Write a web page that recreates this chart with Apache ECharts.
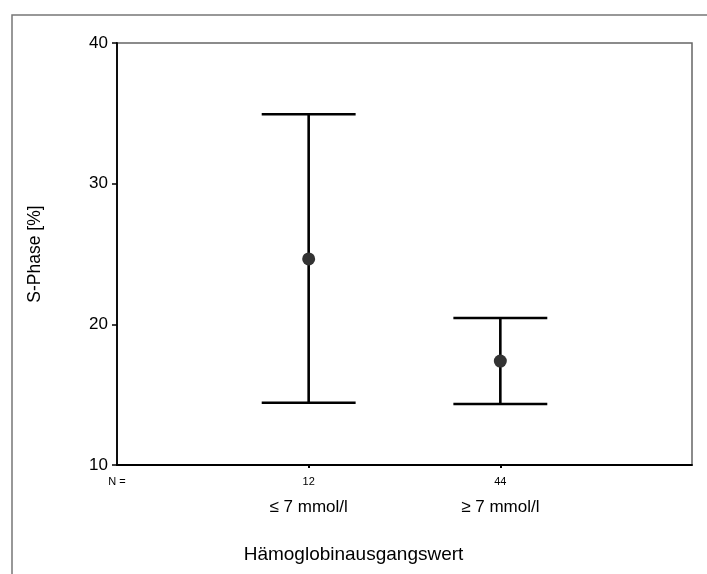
<!DOCTYPE html>
<html>
<head>
<meta charset="utf-8">
<script src="https://cdn.jsdelivr.net/npm/echarts@6/dist/echarts.min.js"></script>
<style>
html,body{margin:0;padding:0;background:#fff;}
#c{width:707px;height:574px;}
</style>
</head>
<body>
<div id="c"></div>
<script>
var categories = ['\u2264 7 mmol/l', '\u2265 7 mmol/l'];
var nValues = [12, 44];
var xPositions = [1, 2];
var means = [24.65, 17.39];
var lowerCI = [14.43, 14.34];
var upperCI = [34.93, 20.45];
var yTicks = [10, 20, 30, 40];

var capHalf = 0.245;
var font = '"Liberation Sans", Arial, sans-serif';

var barData = xPositions.map(function (x, i) { return [x, means[i], lowerCI[i], upperCI[i]]; });
var meanData = xPositions.map(function (x, i) { return [x, means[i]]; });

var chart = echarts.init(document.getElementById('c'), null, {renderer: 'canvas'});
chart.setOption({
  backgroundColor: '#fff',
  animation: false,
  textStyle: {fontFamily: font},
  title: {
    text: 'H\u00e4moglobinausgangswert',
    left: 'center',
    top: 540,
    textStyle: {fontFamily: font, fontSize: 19, fontWeight: 'normal', color: '#000'}
  },
  graphic: [{
    type: 'polyline',
    shape: {points: [[12, 574], [12, 15], [707, 15]]},
    style: {stroke: '#777', lineWidth: 1.5, fill: null},
    silent: true
  }],
  grid: {
    left: 117, top: 43, right: 15, bottom: 109,
    show: true, borderColor: '#666', borderWidth: 1.5, backgroundColor: 'transparent'
  },
  xAxis: {
    type: 'value', min: 0, max: 3,
    axisLine: {show: true, onZero: false, lineStyle: {color: '#000', width: 1.8}},
    axisTick: {show: true, customValues: xPositions, length: 3, lineStyle: {color: '#000', width: 2}},
    splitLine: {show: false},
    axisLabel: {
      show: true,
      customValues: [0].concat(xPositions),
      margin: 9,
      formatter: function (v) {
        if (v === 0) return '{a|N =}\n{b| }';
        var i = xPositions.indexOf(v);
        if (i < 0) return '';
        return '{a|' + nValues[i] + '}\n{b|' + categories[i] + '}';
      },
      rich: {
        a: {fontFamily: font, fontSize: 11, lineHeight: 16, color: '#000'},
        b: {fontFamily: font, fontSize: 17, lineHeight: 34, color: '#000'}
      }
    }
  },
  yAxis: {
    type: 'value', min: 10, max: 40, interval: 10,
    name: 'S-Phase [%]', nameLocation: 'middle', nameGap: 73,
    nameTextStyle: {fontFamily: font, fontSize: 17.5, color: '#000'},
    axisLine: {show: true, onZero: false, lineStyle: {color: '#000', width: 1.8}},
    axisTick: {show: true, inside: false, length: 5, lineStyle: {color: '#000', width: 1.5}},
    splitLine: {show: false},
    axisLabel: {fontFamily: font, fontSize: 17, color: '#000', margin: 9,
      formatter: function (v) { return yTicks.indexOf(v) >= 0 ? String(v) : ''; }}
  },
  series: [{
    type: 'custom',
    data: barData,
    renderItem: function (params, api) {
      var x = api.value(0), lo = api.value(2), hi = api.value(3);
      var pLo = api.coord([x, lo]), pHi = api.coord([x, hi]);
      var cL = api.coord([x - capHalf, hi]), cR = api.coord([x + capHalf, hi]);
      var bL = api.coord([x - capHalf, lo]), bR = api.coord([x + capHalf, lo]);
      var st = {stroke: '#000', lineWidth: 2.6};
      return {type: 'group', children: [
        {type: 'line', shape: {x1: pLo[0], y1: pLo[1], x2: pHi[0], y2: pHi[1]}, style: st},
        {type: 'line', shape: {x1: cL[0], y1: cL[1], x2: cR[0], y2: cR[1]}, style: st},
        {type: 'line', shape: {x1: bL[0], y1: bL[1], x2: bR[0], y2: bR[1]}, style: st}
      ]};
    },
    z: 2
  }, {
    type: 'scatter',
    data: meanData,
    symbol: 'circle',
    symbolSize: 13,
    itemStyle: {color: '#333', opacity: 1},
    z: 3
  }]
});
</script>
</body>
</html>
